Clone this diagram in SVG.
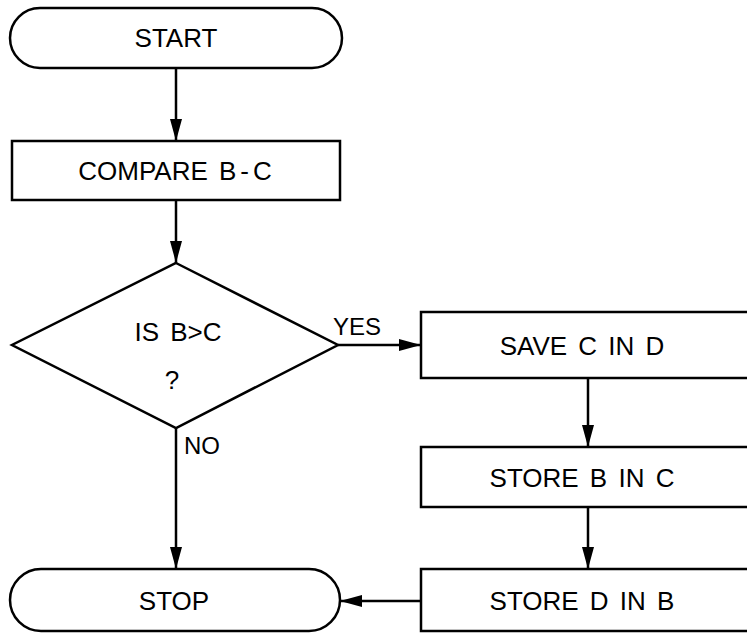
<svg xmlns="http://www.w3.org/2000/svg" width="747" height="633" viewBox="0 0 747 633">
  <style>
    .shape { fill: #ffffff; stroke: #000000; stroke-width: 2.5; }
    .label { font-family: "Liberation Sans", "DejaVu Sans", sans-serif; font-size: 26px; fill: #000000; text-anchor: middle; word-spacing: 4px; }
    .tag { font-family: "Liberation Sans", "DejaVu Sans", sans-serif; font-size: 24px; fill: #000000; }
    .flow { fill: none; stroke: #000000; stroke-width: 2.5; }
  </style>
  <defs>
    <marker id="arrow" viewBox="0 0 22 12" refX="22" refY="6" markerWidth="22" markerHeight="12" markerUnits="userSpaceOnUse" orient="auto">
      <path d="M0,0 L22,6 L0,12 Z" fill="#000000"/>
    </marker>
  </defs>
  <rect width="747" height="633" fill="#ffffff"/>

  <g id="start">
    <rect class="shape" x="10" y="8" width="332" height="60" rx="30" ry="30"/>
    <text class="label" x="176" y="47">START</text>
  </g>

  <g id="compare">
    <rect class="shape" x="12" y="141" width="328" height="59"/>
    <text class="label" x="175" y="180">COMPARE B<tspan dx="4">-</tspan><tspan dx="4">C</tspan></text>
  </g>

  <g id="decision">
    <polygon class="shape" points="176,263 338,345 176,428 12,345"/>
    <text class="label" x="178" y="341">IS B&gt;C</text>
    <text class="label" x="172" y="389">?</text>
  </g>

  <g id="save">
    <rect class="shape" x="421" y="312" width="340" height="66"/>
    <text class="label" x="582" y="355">SAVE C IN D</text>
  </g>

  <g id="store-b">
    <rect class="shape" x="421" y="447" width="340" height="60"/>
    <text class="label" x="582" y="487">STORE B IN C</text>
  </g>

  <g id="store-d">
    <rect class="shape" x="421" y="569" width="340" height="62"/>
    <text class="label" x="582" y="610">STORE D IN B</text>
  </g>

  <g id="stop">
    <rect class="shape" x="10" y="569" width="330" height="62" rx="31" ry="31"/>
    <text class="label" x="174" y="610">STOP</text>
  </g>

  <g id="connectors">
    <line class="flow" x1="176" y1="68" x2="176" y2="141" marker-end="url(#arrow)"/>
    <line class="flow" x1="176" y1="200" x2="176" y2="263" marker-end="url(#arrow)"/>
    <line class="flow" x1="338" y1="345" x2="421" y2="345" marker-end="url(#arrow)"/>
    <line class="flow" x1="588" y1="378" x2="588" y2="447" marker-end="url(#arrow)"/>
    <line class="flow" x1="588" y1="507" x2="588" y2="569" marker-end="url(#arrow)"/>
    <line class="flow" x1="176" y1="428" x2="176" y2="569" marker-end="url(#arrow)"/>
    <line class="flow" x1="421" y1="601" x2="340" y2="601" marker-end="url(#arrow)"/>
    <text class="tag" x="333" y="335">YES</text>
    <text class="tag" x="184" y="454">NO</text>
  </g>
</svg>
